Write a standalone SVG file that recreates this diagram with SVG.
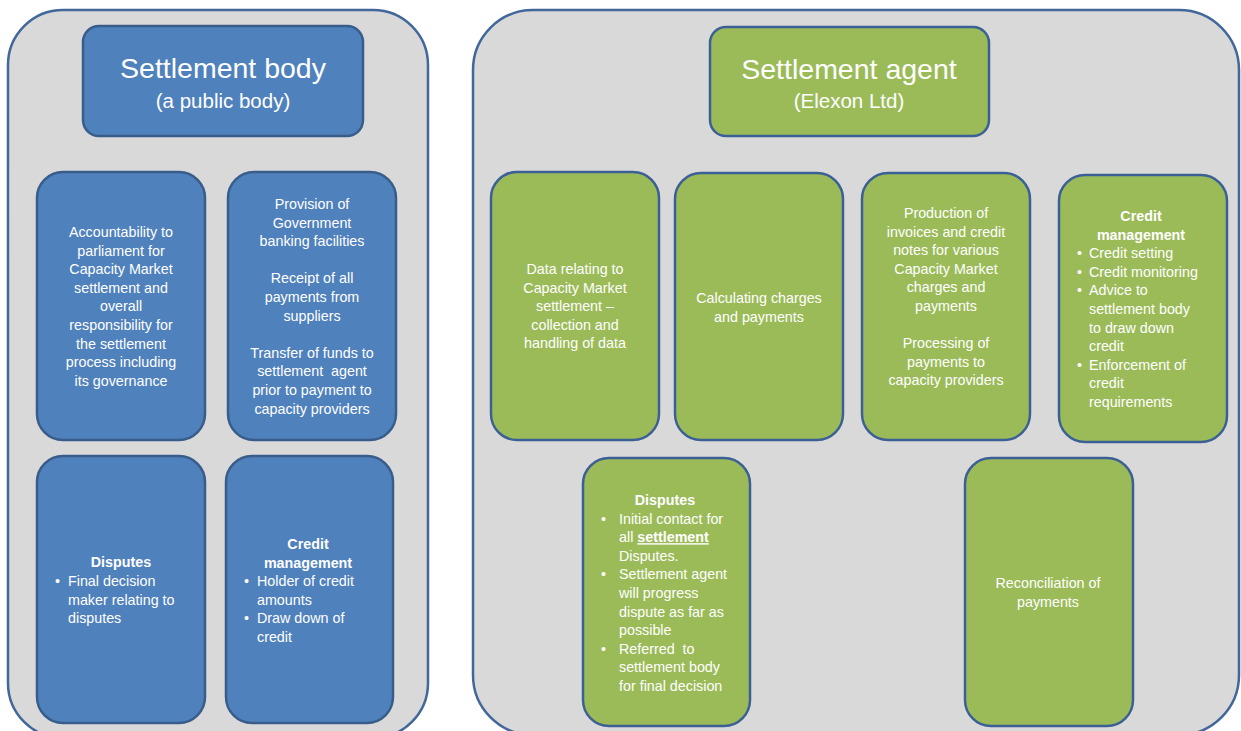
<svg xmlns="http://www.w3.org/2000/svg" width="1241" height="731" viewBox="0 0 1241 731">
<style>
.cont{fill:#D9D9D9;stroke:#41679B;stroke-width:2.5}
.blue{fill:#4F81BD;stroke:#385D8A;stroke-width:2.5}
.green{fill:#9BBB59;stroke:#3C6095;stroke-width:2.5}
text{font-family:"Liberation Sans",Arial,sans-serif;fill:#FFFFFF;font-size:14.3px}
.c{text-anchor:middle}
.b{font-weight:bold}
.h1{font-size:28.5px}
.h2{font-size:20.5px}
.pre{white-space:pre}
</style>
<rect width="1241" height="731" fill="#FFFFFF"/>
<g id="containers">
<rect id="left-container" class="cont" x="8" y="10" width="420" height="728" rx="55" ry="55"/>
<rect id="right-container" class="cont" x="473" y="10" width="766" height="725" rx="60" ry="60"/>
</g>
<g id="connectors"></g>
<g id="settlement-body">
<rect class="blue" x="83" y="26" width="280" height="110" rx="16"/>
<text class="c h1" x="223" y="78">Settlement body</text>
<text class="c h2" x="223" y="108">(a public body)</text>
</g>
<g id="sb-accountability">
<rect class="blue" x="37" y="172" width="168" height="268" rx="26"/>
<text class="c" x="121"><tspan x="121" y="237">Accountability to</tspan><tspan x="121" y="255.6">parliament for</tspan><tspan x="121" y="274.2">Capacity Market</tspan><tspan x="121" y="292.8">settlement and</tspan><tspan x="121" y="311.4">overall</tspan><tspan x="121" y="330">responsibility for</tspan><tspan x="121" y="348.6">the settlement</tspan><tspan x="121" y="367.2">process including</tspan><tspan x="121" y="385.8">its governance</tspan></text>
</g>
<g id="sb-banking">
<rect class="blue" x="228" y="172" width="168" height="268" rx="26"/>
<text class="c pre" x="312"><tspan x="312" y="209">Provision of</tspan><tspan x="312" y="227.6">Government</tspan><tspan x="312" y="246.2">banking facilities</tspan><tspan x="312" y="283.4">Receipt of all</tspan><tspan x="312" y="302">payments from</tspan><tspan x="312" y="320.6">suppliers</tspan><tspan x="312" y="357.8">Transfer of funds to</tspan><tspan x="312" y="376.4">settlement  agent</tspan><tspan x="312" y="395">prior to payment to</tspan><tspan x="312" y="413.6">capacity providers</tspan></text>
</g>
<g id="sb-disputes">
<rect class="blue" x="37" y="456" width="168" height="267" rx="26"/>
<text class="c b" x="121" y="567">Disputes</text>
<text x="55" y="586">•</text>
<text x="68"><tspan x="68" y="586">Final decision</tspan><tspan x="68" y="604.6">maker relating to</tspan><tspan x="68" y="623.2">disputes</tspan></text>
</g>
<g id="sb-credit">
<rect class="blue" x="226" y="456" width="167" height="267" rx="26"/>
<text class="c b" x="308"><tspan x="308" y="549">Credit</tspan><tspan x="308" y="567.6">management</tspan></text>
<text x="244" y="586">•</text>
<text x="244" y="623.2">•</text>
<text x="257"><tspan x="257" y="586">Holder of credit</tspan><tspan x="257" y="604.6">amounts</tspan><tspan x="257" y="623.2">Draw down of</tspan><tspan x="257" y="641.8">credit</tspan></text>
</g>
<g id="settlement-agent">
<rect class="green" x="710" y="27" width="279" height="109" rx="16"/>
<text class="c h1" x="849" y="79">Settlement agent</text>
<text class="c h2" x="849" y="108">(Elexon Ltd)</text>
</g>
<g id="sa-data">
<rect class="green" x="491" y="172" width="168" height="268" rx="26"/>
<text class="c" x="575"><tspan x="575" y="274">Data relating to</tspan><tspan x="575" y="292.6">Capacity Market</tspan><tspan x="575" y="311.2">settlement –</tspan><tspan x="575" y="329.8">collection and</tspan><tspan x="575" y="348.4">handling of data</tspan></text>
</g>
<g id="sa-calculating">
<rect class="green" x="675" y="173" width="168" height="267" rx="26"/>
<text class="c" x="759"><tspan x="759" y="303">Calculating charges</tspan><tspan x="759" y="321.6">and payments</tspan></text>
</g>
<g id="sa-invoices">
<rect class="green" x="862" y="173" width="168" height="267" rx="26"/>
<text class="c" x="946"><tspan x="946" y="218">Production of</tspan><tspan x="946" y="236.6">invoices and credit</tspan><tspan x="946" y="255.2">notes for various</tspan><tspan x="946" y="273.8">Capacity Market</tspan><tspan x="946" y="292.4">charges and</tspan><tspan x="946" y="311">payments</tspan><tspan x="946" y="348.2">Processing of</tspan><tspan x="946" y="366.8">payments to</tspan><tspan x="946" y="385.4">capacity providers</tspan></text>
</g>
<g id="sa-credit">
<rect class="green" x="1059" y="175" width="168" height="267" rx="26"/>
<text class="c b" x="1141"><tspan x="1141" y="221">Credit</tspan><tspan x="1141" y="239.6">management</tspan></text>
<text x="1077" y="258.2">•</text>
<text x="1077" y="276.8">•</text>
<text x="1077" y="295.4">•</text>
<text x="1077" y="369.8">•</text>
<text x="1089"><tspan x="1089" y="258.2">Credit setting</tspan><tspan x="1089" y="276.8">Credit monitoring</tspan><tspan x="1089" y="295.4">Advice to</tspan><tspan x="1089" y="314">settlement body</tspan><tspan x="1089" y="332.6">to draw down</tspan><tspan x="1089" y="351.2">credit</tspan><tspan x="1089" y="369.8">Enforcement of</tspan><tspan x="1089" y="388.4">credit</tspan><tspan x="1089" y="407">requirements</tspan></text>
</g>
<g id="sa-disputes">
<rect class="green" x="583" y="458" width="167" height="268" rx="26"/>
<text class="c b" x="665" y="505">Disputes</text>
<text x="601" y="523.6">•</text>
<text x="601" y="579.4">•</text>
<text x="601" y="653.8">•</text>
<text class="pre" x="619"><tspan x="619" y="523.6">Initial contact for</tspan><tspan x="619" y="542.2">all <tspan class="b" text-decoration="underline">settlement</tspan></tspan><tspan x="619" y="560.8">Disputes.</tspan><tspan x="619" y="579.4">Settlement agent</tspan><tspan x="619" y="598">will progress</tspan><tspan x="619" y="616.6">dispute as far as</tspan><tspan x="619" y="635.2">possible</tspan><tspan x="619" y="653.8">Referred  to</tspan><tspan x="619" y="672.4">settlement body</tspan><tspan x="619" y="691">for final decision</tspan></text>
</g>
<g id="sa-reconciliation">
<rect class="green" x="965" y="458" width="168" height="268" rx="26"/>
<text class="c" x="1048"><tspan x="1048" y="588">Reconciliation of</tspan><tspan x="1048" y="607">payments</tspan></text>
</g>
</svg>
